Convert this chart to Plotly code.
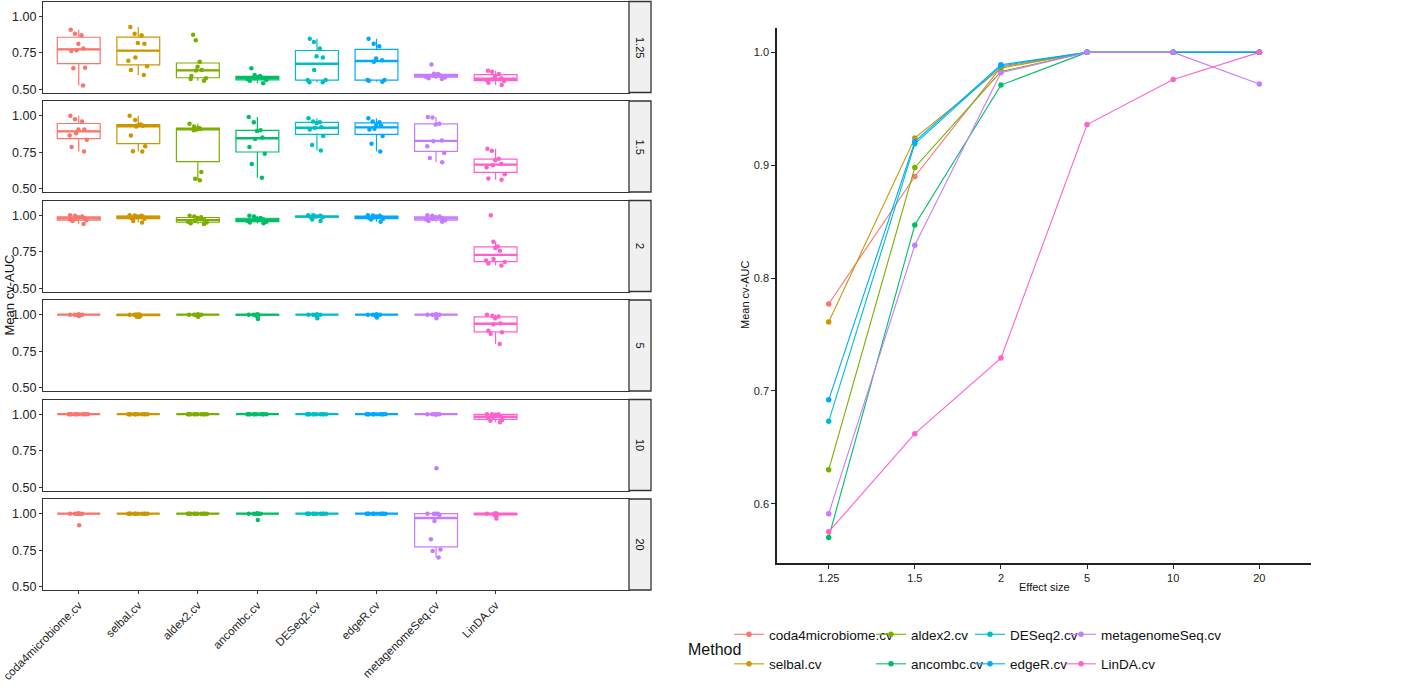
import numpy as np
import plotly.graph_objects as go

methods = ["coda4microbiome.cv", "selbal.cv", "aldex2.cv", "ancombc.cv",
           "DESeq2.cv", "edgeR.cv", "metagenomeSeq.cv", "LinDA.cv"]
colors = ["#F8766D", "#CD9600", "#7CAE00", "#00BE67",
          "#00BFC4", "#00A9FF", "#C77CFF", "#FF61CC"]
effect_sizes = ["1.25", "1.5", "2", "5", "10", "20"]

# cv-AUC values per facet (effect size), one list per method
auc_125 = [
    [0.907, 0.88, 0.87, 0.812, 0.778, 0.767, 0.762, 0.643, 0.647, 0.525],
    [0.925, 0.88, 0.869, 0.817, 0.812, 0.717, 0.695, 0.658, 0.631, 0.597],
    [0.873, 0.835, 0.688, 0.654, 0.631, 0.628, 0.59, 0.575, 0.57, 0.559],
    [0.643, 0.597, 0.59, 0.581, 0.579, 0.575, 0.568, 0.563, 0.559, 0.541],
    [0.846, 0.824, 0.778, 0.726, 0.717, 0.631, 0.563, 0.563, 0.548, 0.548],
    [0.846, 0.812, 0.794, 0.71, 0.699, 0.688, 0.563, 0.563, 0.559, 0.552],
    [0.67, 0.606, 0.604, 0.597, 0.595, 0.59, 0.586, 0.581, 0.575, 0.57],
    [0.627, 0.62, 0.604, 0.59, 0.575, 0.568, 0.563, 0.557, 0.545, 0.529],
]
auc_15 = [
    [1.0, 0.975, 0.96, 0.905, 0.905, 0.88, 0.865, 0.835, 0.785, 0.755],
    [1.0, 0.97, 0.94, 0.935, 0.93, 0.925, 0.865, 0.79, 0.757, 0.755],
    [0.945, 0.925, 0.915, 0.912, 0.908, 0.905, 0.9, 0.615, 0.568, 0.558],
    [0.99, 0.955, 0.9, 0.895, 0.85, 0.84, 0.785, 0.74, 0.67, 0.575],
    [0.982, 0.96, 0.955, 0.95, 0.92, 0.915, 0.905, 0.86, 0.8, 0.762],
    [0.982, 0.96, 0.955, 0.935, 0.93, 0.91, 0.905, 0.86, 0.807, 0.755],
    [0.99, 0.988, 0.945, 0.94, 0.83, 0.825, 0.79, 0.745, 0.71, 0.682],
    [0.773, 0.76, 0.705, 0.695, 0.67, 0.66, 0.648, 0.60, 0.57, 0.562],
]
auc_2 = [
    [1.0, 0.995, 0.99, 0.985, 0.98, 0.975, 0.97, 0.965, 0.96, 0.94],
    [1.0, 0.998, 0.995, 0.99, 0.99, 0.985, 0.98, 0.975, 0.96, 0.95],
    [0.995, 0.99, 0.985, 0.98, 0.97, 0.962, 0.955, 0.95, 0.945, 0.94],
    [0.995, 0.99, 0.98, 0.975, 0.97, 0.966, 0.96, 0.955, 0.95, 0.945],
    [1.0, 1.0, 0.995, 0.99, 0.99, 0.99, 0.988, 0.985, 0.97, 0.96],
    [1.0, 0.998, 0.995, 0.99, 0.988, 0.985, 0.98, 0.975, 0.97, 0.955],
    [1.0, 0.995, 0.99, 0.985, 0.98, 0.975, 0.97, 0.965, 0.96, 0.955],
    [1.0, 0.818, 0.785, 0.775, 0.757, 0.70, 0.69, 0.68, 0.67, 0.655],
]
auc_5 = [
    [1.0, 1.0, 1.0, 1.0, 1.0, 1.0, 1.0, 1.0, 0.995, 0.99],
    [1.0, 1.0, 1.0, 1.0, 1.0, 1.0, 1.0, 0.99, 0.985, 0.985],
    [1.0, 1.0, 1.0, 1.0, 1.0, 1.0, 1.0, 1.0, 0.99, 0.985],
    [1.0, 1.0, 1.0, 1.0, 1.0, 1.0, 1.0, 0.995, 0.99, 0.97],
    [1.0, 1.0, 1.0, 1.0, 1.0, 1.0, 1.0, 1.0, 0.99, 0.975],
    [1.0, 1.0, 1.0, 1.0, 1.0, 1.0, 1.0, 1.0, 0.99, 0.98],
    [1.0, 1.0, 1.0, 1.0, 1.0, 1.0, 1.0, 1.0, 1.0, 0.975],
    [1.0, 0.993, 0.987, 0.975, 0.94, 0.935, 0.89, 0.88, 0.87, 0.80],
]
auc_10 = [
    [1.0, 1.0, 1.0, 1.0, 1.0, 1.0, 1.0, 1.0, 1.0, 1.0],
    [1.0, 1.0, 1.0, 1.0, 1.0, 1.0, 1.0, 1.0, 1.0, 1.0],
    [1.0, 1.0, 1.0, 1.0, 1.0, 1.0, 1.0, 1.0, 1.0, 1.0],
    [1.0, 1.0, 1.0, 1.0, 1.0, 1.0, 1.0, 1.0, 1.0, 1.0],
    [1.0, 1.0, 1.0, 1.0, 1.0, 1.0, 1.0, 1.0, 1.0, 1.0],
    [1.0, 1.0, 1.0, 1.0, 1.0, 1.0, 1.0, 1.0, 1.0, 1.0],
    [1.0, 1.0, 1.0, 1.0, 1.0, 1.0, 1.0, 1.0, 1.0, 0.63],
    [1.0, 1.0, 1.0, 0.995, 0.985, 0.98, 0.975, 0.955, 0.96, 0.945],
]
auc_20 = [
    [1.0, 1.0, 1.0, 1.0, 1.0, 1.0, 1.0, 1.0, 1.0, 0.92],
    [1.0, 1.0, 1.0, 1.0, 1.0, 1.0, 1.0, 1.0, 1.0, 1.0],
    [1.0, 1.0, 1.0, 1.0, 1.0, 1.0, 1.0, 1.0, 1.0, 1.0],
    [1.0, 1.0, 1.0, 1.0, 1.0, 1.0, 1.0, 1.0, 1.0, 0.957],
    [1.0, 1.0, 1.0, 1.0, 1.0, 1.0, 1.0, 1.0, 1.0, 1.0],
    [1.0, 1.0, 1.0, 1.0, 1.0, 1.0, 1.0, 1.0, 1.0, 1.0],
    [1.0, 1.0, 1.0, 1.0, 0.99, 0.95, 0.825, 0.755, 0.745, 0.70],
    [1.0, 1.0, 1.0, 1.0, 1.0, 1.0, 0.995, 0.99, 0.99, 0.966],
]
facet_data = [auc_125, auc_15, auc_2, auc_5, auc_10, auc_20]

# Mean cv-AUC line chart (per method across effect sizes)
line_coda = [0.777, 0.890, 0.987, 1.0, 1.0, 1.0]
line_selbal = [0.761, 0.924, 0.986, 1.0, 1.0, 1.0]
line_aldex2 = [0.630, 0.898, 0.983, 1.0, 1.0, 1.0]
line_ancombc = [0.570, 0.847, 0.971, 1.0, 1.0, 1.0]
line_deseq2 = [0.673, 0.919, 0.988, 1.0, 1.0, 1.0]
line_edger = [0.692, 0.921, 0.989, 1.0, 1.0, 1.0]
line_metagenomeseq = [0.591, 0.829, 0.982, 1.0, 1.0, 0.972]
line_linda = [0.575, 0.662, 0.729, 0.936, 0.976, 1.0]
line_data = [line_coda, line_selbal, line_aldex2, line_ancombc,
             line_deseq2, line_edger, line_metagenomeseq, line_linda]

W, H = 1416, 690
FONT = "Liberation Sans, Arial, sans-serif"


def fx(px):
    return px / W


def fy(py):
    return 1 - py / H


PX0, PX1, SX1 = 43, 629, 651
XR = [-0.6, 9.24]
BOX_W = 0.72
px_per_unit = (PX1 - PX0) / (XR[1] - XR[0])
median_size = BOX_W * px_per_unit / 1.4

fig = go.Figure()
layout = {}
shapes = []
annotations = []


def note(text, x, y, size, angle=0, xanchor="center"):
    return dict(text=text, xref="paper", yref="paper", x=fx(x), y=fy(y),
                xanchor=xanchor, yanchor="middle", textangle=angle,
                showarrow=False, font=dict(size=size, color="#111", family=FONT))


for k, data in enumerate(facet_data):
    xa = "x" if k == 0 else f"x{k + 1}"
    ya = "y" if k == 0 else f"y{k + 1}"
    meds = []
    for m, vals in enumerate(data):
        v = np.array(vals)
        q1, med, q3 = np.percentile(v, [25, 50, 75])
        iqr = q3 - q1
        lo = v[v >= q1 - 1.5 * iqr].min()
        hi = v[v <= q3 + 1.5 * iqr].max()
        meds.append(med)
        fig.add_trace(go.Box(
            x=[methods[m]], q1=[q1], median=[med], q3=[q3],
            lowerfence=[lo], upperfence=[hi], width=BOX_W, boxpoints=False,
            orientation="v", whiskerwidth=0,
            line=dict(color=colors[m], width=1.2), fillcolor="white",
            xaxis=xa, yaxis=ya, showlegend=False, hoverinfo="skip"))
    for m, vals in enumerate(data):
        fig.add_trace(go.Box(
            x=[methods[m]] * len(vals), y=vals, width=BOX_W,
            boxpoints="all", jitter=0.55, pointpos=0,
            line=dict(width=0, color="rgba(0,0,0,0)"),
            fillcolor="rgba(0,0,0,0)",
            marker=dict(color=colors[m], size=4.5),
            xaxis=xa, yaxis=ya, showlegend=False, hoverinfo="y"))
    fig.add_trace(go.Scatter(
        x=methods, y=meds, mode="markers",
        marker=dict(symbol="line-ew", size=median_size, color=colors,
                    line=dict(color=colors, width=2.4)),
        xaxis=xa, yaxis=ya, showlegend=False, hoverinfo="skip"))

    top = 1.5 + 99.5 * k
    bot = top + 91
    xname = "xaxis" if k == 0 else f"xaxis{k + 1}"
    yname = "yaxis" if k == 0 else f"yaxis{k + 1}"
    layout[xname] = dict(
        domain=[fx(PX0), fx(PX1)], anchor=ya, type="category",
        categoryorder="array", categoryarray=methods, range=XR,
        showline=True, mirror=True, linecolor="#333", linewidth=1.3,
        ticks="outside" if k == 5 else "", ticklen=3, tickcolor="#333",
        showticklabels=(k == 5), tickangle=-45, automargin=False,
        tickfont=dict(size=11.5, color="#222", family=FONT),
        showgrid=False, zeroline=False, fixedrange=True)
    layout[yname] = dict(
        domain=[fy(bot), fy(top)], anchor=xa, range=[0.478, 1.10],
        tickvals=[0.5, 0.75, 1.0], tickformat=".2f", automargin=False,
        showline=True, mirror=True, linecolor="#333", linewidth=1.3,
        ticks="outside", ticklen=3, tickcolor="#333",
        tickfont=dict(size=12.5, color="#222", family=FONT),
        showgrid=False, zeroline=False, fixedrange=True)
    shapes.append(dict(type="rect", xref="paper", yref="paper",
                       x0=fx(PX1), x1=fx(SX1), y0=fy(bot), y1=fy(top),
                       fillcolor="#F0F0F0", line=dict(color="#333", width=1.3)))
    annotations.append(note(effect_sizes[k], (PX1 + SX1) / 2, (top + bot) / 2,
                            11, angle=90))

annotations.append(note("Mean cv-AUC", 9, 295.5, 13, angle=-90))

# Right chart
legends = ["legend", "legend2", "legend3", "legend4"]
for m in range(8):
    fig.add_trace(go.Scatter(
        x=effect_sizes, y=line_data[m], mode="lines+markers", name=methods[m],
        line=dict(color=colors[m], width=1.1), marker=dict(size=5.5, color=colors[m]),
        xaxis="x7", yaxis="y7", legend=legends[m // 2], legendgroup=methods[m]))

layout["xaxis7"] = dict(
    domain=[fx(777), fx(1311)], anchor="y7", type="category",
    categoryorder="array", categoryarray=effect_sizes, range=[-0.6, 5.6],
    showline=True, linecolor="#222", linewidth=1.6, ticks="outside", ticklen=4,
    tickcolor="#222", tickfont=dict(size=11, color="#222", family=FONT),
    showgrid=False, zeroline=False, fixedrange=True, automargin=False)
layout["yaxis7"] = dict(
    domain=[fy(563), fy(28)], anchor="x7", range=[0.5474, 1.0216],
    tickvals=[0.6, 0.7, 0.8, 0.9, 1.0], tickformat=".1f",
    showline=True, linecolor="#222", linewidth=1.6, ticks="outside", ticklen=4,
    tickcolor="#222", tickfont=dict(size=11, color="#222", family=FONT),
    showgrid=False, zeroline=False, fixedrange=True, automargin=False)
annotations.append(note("Effect size", 1044, 587, 11))
annotations.append(note("Mean cv-AUC", 745, 295, 11, angle=-90))
annotations.append(note("Method", 686, 649, 16, xanchor="left"))

leg_x = [729, 871, 970, 1061]
for i, name in enumerate(legends):
    layout[name] = dict(
        x=fx(leg_x[i]), y=fy(619), xanchor="left", yanchor="top",
        orientation="v", bgcolor="rgba(0,0,0,0)", borderwidth=0,
        tracegroupgap=9, font=dict(size=13.5, color="#111", family=FONT))

fig.update_layout(
    width=W, height=H, margin=dict(l=0, r=0, t=0, b=0, autoexpand=False),
    paper_bgcolor="white", plot_bgcolor="white",
    font=dict(family=FONT), shapes=shapes, annotations=annotations,
    showlegend=True, **layout)

fig.write_html("out.html", config={"displayModeBar": False},
               post_script="document.body.style.margin='0px';"
                           "document.body.style.padding='0px';")
